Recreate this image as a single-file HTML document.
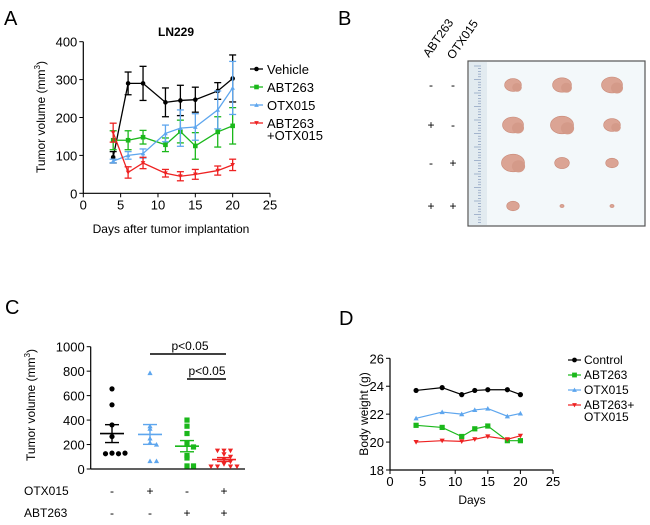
<!DOCTYPE html>
<html><head><meta charset="utf-8"><style>
body{margin:0;background:#fff;font-family:"Liberation Sans",Arial,sans-serif}
svg text{font-family:"Liberation Sans",Arial,sans-serif}
</style></head><body>
<svg id="s" width="650" height="520" viewBox="0 0 650 520" xmlns="http://www.w3.org/2000/svg">
<text x="4" y="25" font-size="20">A</text>
<text x="338" y="25" font-size="20">B</text>
<text x="5" y="314" font-size="20">C</text>
<text x="339" y="325" font-size="20">D</text>
<text x="176" y="36" font-size="12" font-weight="bold" text-anchor="middle">LN229</text>
<text x="171" y="233" font-size="12" text-anchor="middle">Days after tumor implantation</text>
<text transform="translate(45,117) rotate(-90)" font-size="12" text-anchor="middle">Tumor volume (mm<tspan font-size="8" dy="-5">3</tspan><tspan dy="5">)</tspan></text>
<text transform="translate(35,405) rotate(-90)" font-size="12" text-anchor="middle">Tumor volume (mm<tspan font-size="8" dy="-5">3</tspan><tspan dy="5">)</tspan></text>
<text transform="translate(368,414) rotate(-90)" font-size="12" text-anchor="middle">Body weight (g)</text>
<text x="472" y="504" font-size="12" text-anchor="middle">Days</text>
<g id="photo">
<rect x="468" y="61" width="177" height="165" fill="#f3f8fa" stroke="#555" stroke-width="1.2"/>
<rect x="469" y="62" width="18" height="163" fill="#e2ebf0"/>
</g>
<g font-size="12">
<text transform="translate(429,58) rotate(-55)">ABT263</text>
<text transform="translate(453,60) rotate(-55)">OTX015</text>
</g>
</svg>
<script>
const svg=document.getElementById('s');
const NS='http://www.w3.org/2000/svg';
function mk(tag,attrs,parent){const e=document.createElementNS(NS,tag);for(const k in attrs)e.setAttribute(k,attrs[k]);(parent||svg).appendChild(e);return e;}
function txt(x,y,s,size,anchor,parent){const t=mk('text',{x:x,y:y,'font-size':size,'text-anchor':anchor||'start'},parent);t.textContent=s;return t;}
function marker(g,shape,x,y,c,r){
 if(shape==='circle')return mk('circle',{cx:x,cy:y,r:r,fill:c},g);
 if(shape==='square')return mk('rect',{x:x-r,y:y-r,width:2*r,height:2*r,fill:c},g);
 if(shape==='tri')return mk('polygon',{points:`${x},${y-r} ${x-r},${y+r*0.8} ${x+r},${y+r*0.8}`,fill:c},g);
 return mk('polygon',{points:`${x},${y+r} ${x-r},${y-r*0.8} ${x+r},${y-r*0.8}`,fill:c},g);
}
// ===== Panel A data =====
const aDays=[4,6,8,11,13,15,18,20];
const aVehicle=[95,290,290,240,245,247,270,303];
const aVehicleErr=[15,30,45,38,40,33,22,62];
const aAbt=[140,140,148,128,163,125,162,178];
const aAbtErr=[25,25,18,18,30,35,40,48];
const aOtx=[85,100,105,158,172,175,220,278];
const aOtxErr=[5,10,12,22,48,35,50,70];
const aCombo=[160,55,80,53,45,50,60,75];
const aComboErr=[25,15,15,10,12,13,12,15];
const aXTicks=[0,5,10,15,20,25];
const aYTicks=[0,100,200,300,400];
// ===== Panel C data =====
const cGroups=['ctrl','otx','abt','combo'];
const cCtrl=[655,525,360,265,130,125,125,130];
const cOtx=[785,350,330,215,200,250,65,65];
const cAbt=[400,350,290,210,180,110,90,25,25];
const cCombo=[150,150,150,120,100,80,60,40,20,20,20,20];
const cYTicks=[0,200,400,600,800,1000];
const cOtxSigns=['-','+','-','+'];
const cAbtSigns=['-','-','+','+'];
// ===== Panel D data =====
const dDays=[4,8,11,13,15,18,20];
const dControl=[23.7,23.9,23.4,23.7,23.75,23.75,23.4];
const dAbt=[21.2,21.05,20.4,20.95,21.15,20.1,20.1];
const dOtx=[21.7,22.15,22.0,22.3,22.4,21.85,22.05];
const dCombo=[20.0,20.1,20.05,20.2,20.4,20.2,20.45];
const dXTicks=[0,5,10,15,20,25];
const dYTicks=[18,20,22,24,26];
const bRowsAbt=['-','+','-','+'];
const bRowsOtx=['-','-','+','+'];
const bSizes=[[8,9,10],[10,11,8],[11,7,6],[6,2,2]];

function axes(g,x0,x1,y0,y1,xs,ys,xT,yT,size){
 mk('line',{x1:x0,y1:y0,x2:x0,y2:y1,stroke:'#000','stroke-width':1.2},g);
 if(xT){mk('line',{x1:x0,y1:y0,x2:x1,y2:y0,stroke:'#000','stroke-width':1.2},g);
 xT.forEach(v=>{const x=xs(v);mk('line',{x1:x,y1:y0,x2:x,y2:y0+4,stroke:'#000'},g);txt(x,y0+16,String(v),size,'middle',g);});}
 yT.forEach(v=>{const y=ys(v);mk('line',{x1:x0-4,y1:y,x2:x0,y2:y,stroke:'#000'},g);txt(x0-6,y+5,String(v),size,'end',g);});
}
// ---- Panel A ----
(function(){
 const g=mk('g',{});
 
 
 const xs=v=>83.3+v*(270-83.3)/25, ys=v=>193.3-v*(193.3-41.7)/400;
 axes(g,83.3,270,193.3,41.7,xs,ys,aXTicks,aYTicks,13);
 const series=[[aVehicle,aVehicleErr,'#000','circle','vehicle'],[aAbt,aAbtErr,'#1bb81b','square','abt263'],[aOtx,aOtxErr,'#5ea6ee','tri','otx015'],[aCombo,aComboErr,'#ee2222','down','combo']];
 series.forEach(([vals,errs,c,sh,n])=>{
  const sg=mk('g',{},g);
  
  
  mk('polyline',{points:aDays.map((d,i)=>xs(d)+','+ys(vals[i])).join(' '),fill:'none',stroke:c,'stroke-width':1.3},sg);
  aDays.forEach((d,i)=>{const x=xs(d);const t=ys(vals[i]+errs[i]),b=ys(vals[i]-errs[i]);
   mk('line',{x1:x,y1:t,x2:x,y2:b,stroke:c,'stroke-width':1.3},sg);
   mk('line',{x1:x-3.5,y1:t,x2:x+3.5,y2:t,stroke:c,'stroke-width':1.3},sg);
   mk('line',{x1:x-3.5,y1:b,x2:x+3.5,y2:b,stroke:c,'stroke-width':1.3},sg);
   marker(sg,sh,x,ys(vals[i]),c,2.3);});
 });
 const leg=[['Vehicle','#000','circle',69],['ABT263','#1bb81b','square',87],['OTX015','#5ea6ee','tri',105],['ABT263','#ee2222','down',123]];
 leg.forEach(([l,c,sh,y])=>{const lg=mk('g',{},g);
  
  
  mk('line',{x1:250,y1:y,x2:263,y2:y,stroke:c,'stroke-width':1.3},lg);marker(lg,sh,256.5,y,c,2.3);txt(267,y+5,l,13,'start',lg);});
 txt(267,140,'+OTX015',13,'start',g);
})();
// ---- Panel B ----
(function(){
 const g=mk('g',{});
 
 
 for(let y=66;y<224;y+=2.7){mk('line',{x1:481,y1:y,x2:(Math.round((y-66)/2.7)%5===0?474:478),y2:y,stroke:'#7a8fb5','stroke-width':0.6},g);}
 const cols=[513,562,612],rows=[85,125,163,206];
 bRowsAbt.forEach((s,r)=>{txt(431,rows[r]+4,s,12,'middle',g);txt(453,rows[r]+4,bRowsOtx[r],12,'middle',g);
  cols.forEach((x,ci)=>{const sz=bSizes[r][ci];
   const e=mk('ellipse',{cx:x,cy:rows[r],rx:sz*1.05,ry:sz*0.8,fill:'#dba494',stroke:'#c98a78','stroke-width':0.6},g);
   
   
   if(sz>7){const e2=mk('ellipse',{cx:x+sz*0.5,cy:rows[r]+sz*0.3,rx:sz*0.6,ry:sz*0.55,fill:'#d49a89'},g);
    
    }
  });});
})();
// ---- Panel C ----
(function(){
 const g=mk('g',{});
 
 
 const x0=90.7,y0=469,y1=346.7;const ys=v=>y0-v*(y0-y1)/1000;
 mk('line',{x1:x0,y1:y0,x2:245,y2:y0,stroke:'#000','stroke-width':1.2},g);
 axes(g,x0,245,y0,y1,null,ys,null,cYTicks,13);
 const cx=[112,150,187,224];
 const data=[[cCtrl,'#000','circle'],[cOtx,'#5ea6ee','tri'],[cAbt,'#1bb81b','square'],[cCombo,'#ee2222','down']];
 data.forEach(([vals,c,sh],gi)=>{
  const sg=mk('g',{},g);
  
  
  const m=vals.reduce((a,b)=>a+b,0)/vals.length;
  const sd=Math.sqrt(vals.reduce((a,b)=>a+(b-m)*(b-m),0)/(vals.length-1));const se=sd/Math.sqrt(vals.length);
  const seen={};
  vals.forEach(v=>{const k=Math.round(v/40);seen[k]=(seen[k]||0)+1;const n=seen[k]-1;const off=(n%2?1:-1)*Math.ceil(n/2)*6.5;
   marker(sg,sh,cx[gi]+off,ys(v),c,2.6);});
  mk('line',{x1:cx[gi]-12,y1:ys(m),x2:cx[gi]+12,y2:ys(m),stroke:c,'stroke-width':1.6},sg);
  [m+se,m-se].forEach(v=>mk('line',{x1:cx[gi]-7,y1:ys(v),x2:cx[gi]+7,y2:ys(v),stroke:c,'stroke-width':1.4},sg));
  mk('line',{x1:cx[gi],y1:ys(m+se),x2:cx[gi],y2:ys(m-se),stroke:c,'stroke-width':1.4},sg);
  txt(cx[gi],495,cOtxSigns[gi],12,'middle',g);txt(cx[gi],517,cAbtSigns[gi],12,'middle',g);
 });
 mk('line',{x1:150,y1:354,x2:226,y2:354,stroke:'#000','stroke-width':1.4},g);
 txt(190,350,'p<0.05',12,'middle',g);
 mk('line',{x1:187,y1:379,x2:226,y2:379,stroke:'#000','stroke-width':1.4},g);
 txt(207,375,'p<0.05',12,'middle',g);
 txt(24,495,'OTX015',12,'start',g);txt(24,517,'ABT263',12,'start',g);
})();
// ---- Panel D ----
(function(){
 const g=mk('g',{});
 
 
 const xs=v=>390+v*(553-390)/25, ys=v=>470-(v-18)*(470-358.3)/8;
 axes(g,390,553,470,358.3,xs,ys,dXTicks,dYTicks,13);
 const series=[[dControl,'#000','circle','control'],[dAbt,'#1bb81b','square','abt263'],[dOtx,'#5ea6ee','tri','otx015'],[dCombo,'#ee2222','down','combo']];
 series.forEach(([vals,c,sh,n])=>{const sg=mk('g',{},g);
  
  
  mk('polyline',{points:dDays.map((d,i)=>xs(d)+','+ys(vals[i])).join(' '),fill:'none',stroke:c,'stroke-width':1.2},sg);
  dDays.forEach((d,i)=>marker(sg,sh,xs(d),ys(vals[i]),c,2.6));});
 const leg=[['Control','#000','circle',360],['ABT263','#1bb81b','square',375],['OTX015','#5ea6ee','tri',390],['ABT263+','#ee2222','down',405]];
 leg.forEach(([l,c,sh,y])=>{const lg=mk('g',{},g);
  
  
  mk('line',{x1:568,y1:y,x2:581,y2:y,stroke:c,'stroke-width':1.2},lg);marker(lg,sh,574.5,y,c,2.4);txt(584,y+4,l,12,'start',lg);});
 txt(584,421,'OTX015',12,'start',g);
})();
</script>
</body></html>
